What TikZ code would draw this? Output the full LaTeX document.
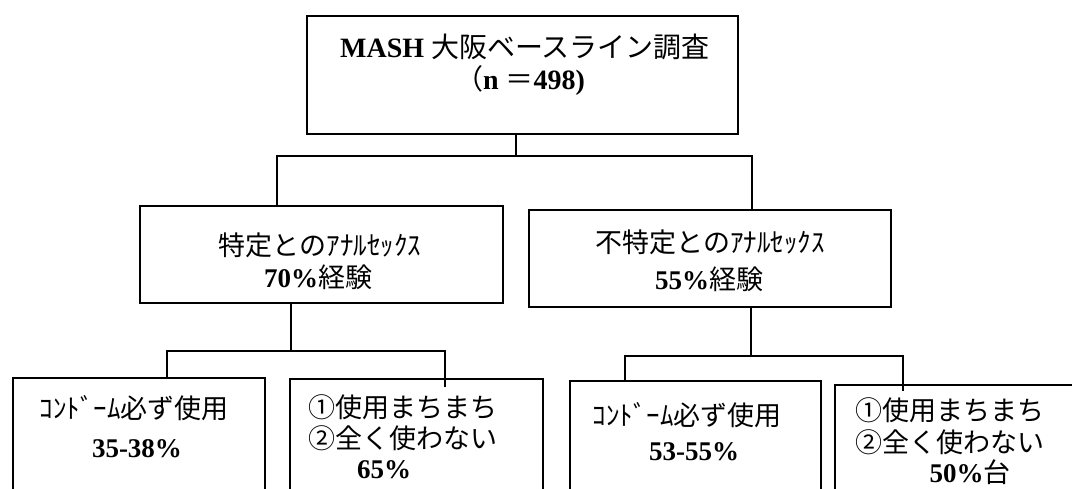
\documentclass[tikz,border=0pt]{standalone}
\usepackage{fontspec}
\setmainfont{Liberation Serif}
\newfontfamily\cjk{Noto Sans CJK JP}
\begin{document}
\begin{tikzpicture}[x=1pt,y=-1pt,
  box/.style={draw,line width=1.6pt,anchor=north west,inner sep=0pt},
  conn/.style={line width=1.6pt},
  big/.style={font=\fontsize{28}{33}\selectfont,inner sep=0pt},
  txt/.style={font=\fontsize{27}{31}\selectfont,inner sep=0pt}]
\useasboundingbox (0,0) rectangle (1072,489);
\clip (0,0) rectangle (1072,489);
% boxes
\node[box,minimum width=431pt,minimum height=118pt] (top) at (306,15) {};
\node[box,minimum width=363pt,minimum height=97pt] (midL) at (139,205) {};
\node[box,minimum width=362pt,minimum height=97pt] (midR) at (528,209) {};
\node[box,minimum width=252pt,minimum height=112pt] (b1) at (12,377) {};
\node[box,minimum width=253pt,minimum height=111pt] (b2) at (289,378) {};
\node[box,minimum width=251pt,minimum height=109pt] (b3) at (569,380) {};
\node[box,minimum width=260pt,minimum height=105pt] (b4) at (834,384) {};
% connectors
\coordinate (j0) at (516,156);
\coordinate (hL) at (277,156);
\coordinate (hR) at (752,156);
\draw[conn] (j0 |- top.south) -- (j0);
\draw[conn] (hL |- midL.north) -- (hL) -- (hR) -- (hR |- midR.north);
\coordinate (jL) at (291,351);
\coordinate (l1) at (167,351);
\coordinate (l2) at (445,351);
\coordinate (l2e) at (445,387);
\draw[conn] (jL |- midL.south) -- (jL);
\draw[conn] (l1 |- b1.north) -- (l1) -- (l2) -- (l2e);
\coordinate (jR) at (751,356);
\coordinate (r1) at (625,356);
\coordinate (r2) at (903,356);
\coordinate (r2e) at (903,391);
\draw[conn] (jR |- midR.south) -- (jR);
\draw[conn] (r1 |- b3.north) -- (r1) -- (r2) -- (r2e);
% texts
\node[big] (t1) at (525,47) {\textbf{MASH} {\cjk 大阪ベースライン調査}};
\node[big] (t2) at (520,80) {{\cjk （}\textbf{n} {\cjk ＝}\textbf{498)}};
\node[txt] (m1) at (320,245) {{\cjk 特定とのｱﾅﾙｾｯｸｽ}};
\node[txt] (m2) at (318,277) {\textbf{70\%}{\cjk 経験}};
\node[txt] (m3) at (710,242) {{\cjk 不特定とのｱﾅﾙｾｯｸｽ}};
\node[txt] (m4) at (709,279) {\textbf{55\%}{\cjk 経験}};
\node[txt] (c1) at (134,408) {{\cjk ｺﾝﾄﾞｰﾑ必ず使用}};
\node[txt] (c2) at (137,449) {\textbf{35-38\%}};
\node[txt,anchor=west] (c3) at (308,407) {{\cjk ①使用まちまち}};
\node[txt,anchor=west] (c4) at (308,438) {{\cjk ②全く使わない}};
\node[txt] (c5) at (384,470) {\textbf{65\%}};
\node[txt] (d1) at (687,415) {{\cjk ｺﾝﾄﾞｰﾑ必ず使用}};
\node[txt] (d2) at (694,452) {\textbf{53-55\%}};
\node[txt,anchor=west] (d3) at (855,410) {{\cjk ①使用まちまち}};
\node[txt,anchor=west] (d4) at (855,442) {{\cjk ②全く使わない}};
\node[txt] (d5) at (970,472) {\textbf{50\%}{\cjk 台}};
\end{tikzpicture}
\end{document}
